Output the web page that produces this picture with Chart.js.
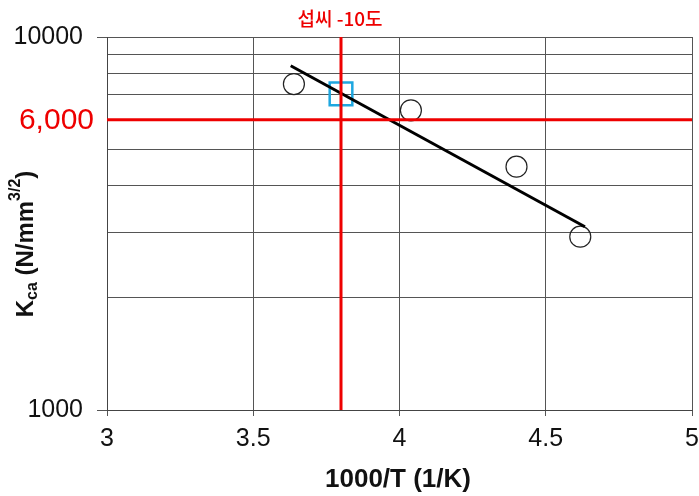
<!DOCTYPE html>
<html>
<head>
<meta charset="utf-8">
<script src="https://cdn.jsdelivr.net/npm/chart.js@4"></script>
<style>
  body { margin: 0; background: #fff; }
  #wrap { width: 699px; height: 496px; }
</style>
</head>
<body>
<div id="wrap"><canvas id="c"></canvas></div>
<script>
// measured points
const measX = [3.639, 4.039, 4.40, 4.618];
const measY = [7480, 6360, 4490, 2915];
// fitted trend line
const trendX = [3.628, 4.634];
const trendY = [8375, 3100];
// -10 C marker
const markX = [3.80];
const markY = [7040];
// red reference lines
const refTemp = 3.8;
const refK = 6000;
const yGridVals = [1000, 2000, 3000, 4000, 5000, 6000, 7000, 8000, 9000, 10000];
const xTicks = [3, 3.5, 4, 4.5, 5];

const pts = (xs, ys) => xs.map((x, i) => ({ x: x, y: ys[i] }));

const FONT = "'Liberation Sans', Arial, sans-serif";

const extras = {
  id: 'extras',
  afterDraw(chart) {
    const ctx = chart.ctx;
    const xs = chart.scales.x, ys = chart.scales.y;
    ctx.save();
    // red 6,000 label
    ctx.fillStyle = '#ee0000';
    ctx.font = '30px ' + FONT;
    ctx.textAlign = 'right';
    ctx.textBaseline = 'middle';
    ctx.fillText('6,000', 94, ys.getPixelForValue(refK) + 1);
    // label above vertical line
    ctx.font = '500 19px "Noto Sans CJK KR", sans-serif';
    ctx.textAlign = 'center';
    ctx.fillText('섭씨 -10도', xs.getPixelForValue(refTemp) - 1, 19);
    // x axis title
    ctx.fillStyle = '#111';
    ctx.font = 'bold 26px ' + FONT;
    ctx.fillText('1000/T (1/K)', 398, 480);
    // y axis title with sub/superscript
    ctx.translate(26, 244);
    ctx.rotate(-Math.PI / 2);
    const parts = [
      ['K', 24, 0], ['ca', 16, 7], [' (N/mm', 24, 0], ['3/2', 16, -10], [')', 24, 0]
    ];
    let w = 0;
    parts.forEach(p => { ctx.font = 'bold ' + p[1] + 'px ' + FONT; w += ctx.measureText(p[0]).width; });
    let cx = -w / 2;
    ctx.textAlign = 'left';
    parts.forEach(p => {
      ctx.font = 'bold ' + p[1] + 'px ' + FONT;
      ctx.fillText(p[0], cx, p[2]);
      cx += ctx.measureText(p[0]).width;
    });
    ctx.restore();
  }
};

new Chart(document.getElementById('c'), {
  type: 'scatter',
  data: {
    datasets: [
      {
        label: 'h6000',
        data: pts([3, 5], [refK, refK]),
        showLine: true, borderColor: '#ee0000', borderWidth: 3, pointRadius: 0
      },
      {
        label: 'v38',
        data: pts([refTemp, refTemp], [1000, 10000]),
        showLine: true, borderColor: '#ee0000', borderWidth: 3, pointRadius: 0
      },
      {
        label: 'trend',
        data: pts(trendX, trendY),
        showLine: true, borderColor: '#000', borderWidth: 3, pointRadius: 0
      },
      {
        label: 'meas',
        data: pts(measX, measY),
        pointStyle: 'circle', pointRadius: 10.5,
        pointBackgroundColor: 'rgba(255,255,255,0)', pointBorderColor: '#222', pointBorderWidth: 1.2
      },
      {
        label: 'mark',
        data: pts(markX, markY),
        pointStyle: 'rect', pointRadius: 16,
        pointBackgroundColor: 'rgba(255,255,255,0)', pointBorderColor: '#1ea7e0', pointBorderWidth: 2.5
      }
    ]
  },
  options: {
    responsive: true,
    maintainAspectRatio: false,
    animation: false,
    layout: { autoPadding: false, padding: { left: 0, right: 7, top: 37, bottom: 0 } },
    plugins: { legend: { display: false }, tooltip: { enabled: false } },
    scales: {
      x: {
        type: 'linear', min: 3, max: 5,
        afterBuildTicks: s => { s.ticks = xTicks.map(v => ({ value: v })); },
        afterFit: s => { s.height = 86; s.paddingRight = 0; s.paddingLeft = 0; },
        grid: { color: '#555', lineWidth: 1, tickLength: 6, tickColor: '#555' },
        border: { color: '#444', width: 1 },
        ticks: {
          color: '#111', font: { family: FONT, size: 25 }, padding: 8, maxRotation: 0,
          callback: v => String(v)
        }
      },
      y: {
        type: 'logarithmic', min: 1000, max: 10000,
        afterBuildTicks: s => { s.ticks = yGridVals.map(v => ({ value: v, major: v === 1000 || v === 10000 })); },
        afterFit: s => { s.width = 107; },
        grid: {
          color: '#555', lineWidth: 1, tickLength: 10,
          tickColor: c => (c.tick && (c.tick.value === 1000 || c.tick.value === 10000)) ? '#555' : 'rgba(0,0,0,0)'
        },
        border: { color: '#444', width: 1 },
        ticks: {
          color: '#111', font: { family: FONT, size: 25 }, padding: 14,
          callback: v => (v === 1000 || v === 10000) ? String(v) : ''
        }
      }
    }
  },
  plugins: [extras]
});
</script>
</body>
</html>
